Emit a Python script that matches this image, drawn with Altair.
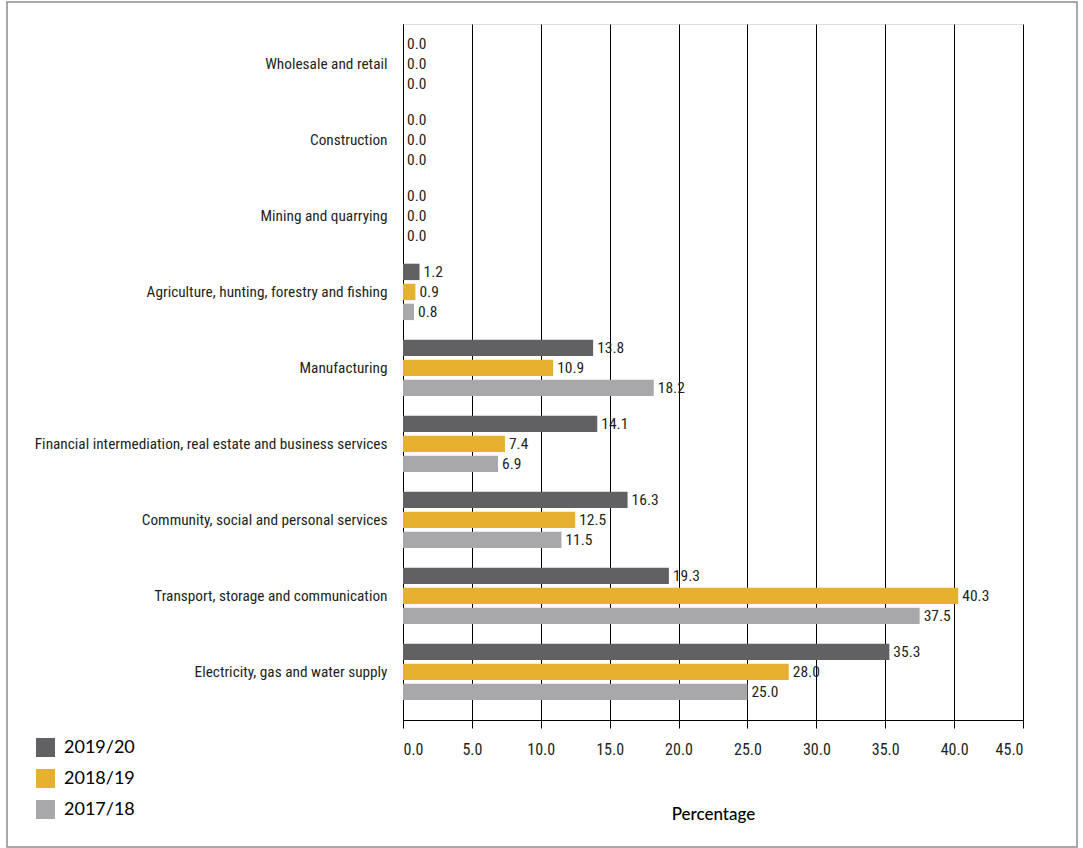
import altair as alt
import pandas as pd

categories = [
    "Wholesale and retail",
    "Construction",
    "Mining and quarrying",
    "Agriculture, hunting, forestry and fishing",
    "Manufacturing",
    "Financial intermediation, real estate and business services",
    "Community, social and personal services",
    "Transport, storage and communication",
    "Electricity, gas and water supply",
]
series = ["2019/20", "2018/19", "2017/18"]
v2019 = [0.0, 0.0, 0.0, 1.2, 13.8, 14.1, 16.3, 19.3, 35.3]
v2018 = [0.0, 0.0, 0.0, 0.9, 10.9, 7.4, 12.5, 40.3, 28.0]
v2017 = [0.0, 0.0, 0.0, 0.8, 18.2, 6.9, 11.5, 37.5, 25.0]
colors = ["#616163", "#e5b12f", "#a8a8ab"]
tick_values = [0, 5, 10, 15, 20, 25, 30, 35, 40, 45]

rows = []
for s, vals in zip(series, [v2019, v2018, v2017]):
    for c, v in zip(categories, vals):
        rows.append({"category": c, "series": s, "value": v})
df = pd.DataFrame(rows)

NARROW = "Roboto Condensed, Noto Sans Condensed, DejaVu Sans Condensed, Liberation Sans Narrow, sans-serif"
TXT = "#231f20"

y = alt.Y(
    "category:N",
    sort=categories,
    scale=alt.Scale(paddingInner=0.258, paddingOuter=0.208, align=0.37),
    axis=alt.Axis(
        title=None, labelFont=NARROW, labelFontSize=15.3, labelColor=TXT,
        labelPadding=16, ticks=False, domainColor="black", domainWidth=1,
        grid=False, labelLimit=500,
    ),
)
yoff = alt.YOffset("series:N", sort=series, scale=alt.Scale(paddingInner=0.18, paddingOuter=0))
x = alt.X(
    "value:Q",
    scale=alt.Scale(domain=[0, 45], nice=False, zero=True),
    axis=alt.Axis(
        values=tick_values, format=".1f", title="Percentage",
        grid=True, gridColor="black", gridWidth=1, gridOpacity=1,
        tickColor="black", tickSize=8, domainColor="black",
        labelFont=NARROW, labelFontSize=16, labelColor=TXT, labelPadding=13,
        titleFont="Lato, sans-serif", titleFontSize=17, titleFontWeight=500,
        titleColor="black", titlePadding=49,
    ),
)
color = alt.Color(
    "series:N",
    sort=series,
    scale=alt.Scale(domain=series, range=colors),
    legend=alt.Legend(
        title=None, orient="none", legendX=-367, legendY=714,
        symbolType="square", symbolSize=361, symbolStrokeWidth=0,
        symbolOpacity=1, labelFont="Lato, sans-serif", labelFontSize=18,
        labelColor="black", rowPadding=12, labelOffset=9,
    ),
)

bars = alt.Chart(df).mark_bar(opacity=1).encode(y=y, yOffset=yoff, x=x, color=color)
labels = alt.Chart(df).mark_text(
    align="left", baseline="middle", dx=4, font=NARROW, fontSize=15.5, color=TXT
).encode(
    y=alt.Y("category:N", sort=categories),
    yOffset=alt.YOffset("series:N", sort=series),
    x=alt.X("value:Q"),
    text=alt.Text("value:Q", format=".1f"),
)

frame = alt.Chart(pd.DataFrame({"a": [0]})).mark_rect(
    fillOpacity=0, stroke="#8c8c8c", strokeWidth=1.5
).encode(
    x=alt.value(-396), x2=alt.value(674), y=alt.value(-22), y2=alt.value(823)
)

chart = alt.layer(bars, labels, frame).properties(
    width=620, height=696,
    padding={"left": 403, "top": 24, "right": 60, "bottom": 128},
    autosize="none",
).configure_view(stroke=None).configure(background="white")

chart.save("out.html", embed_options={"renderer": "svg", "actions": False})
